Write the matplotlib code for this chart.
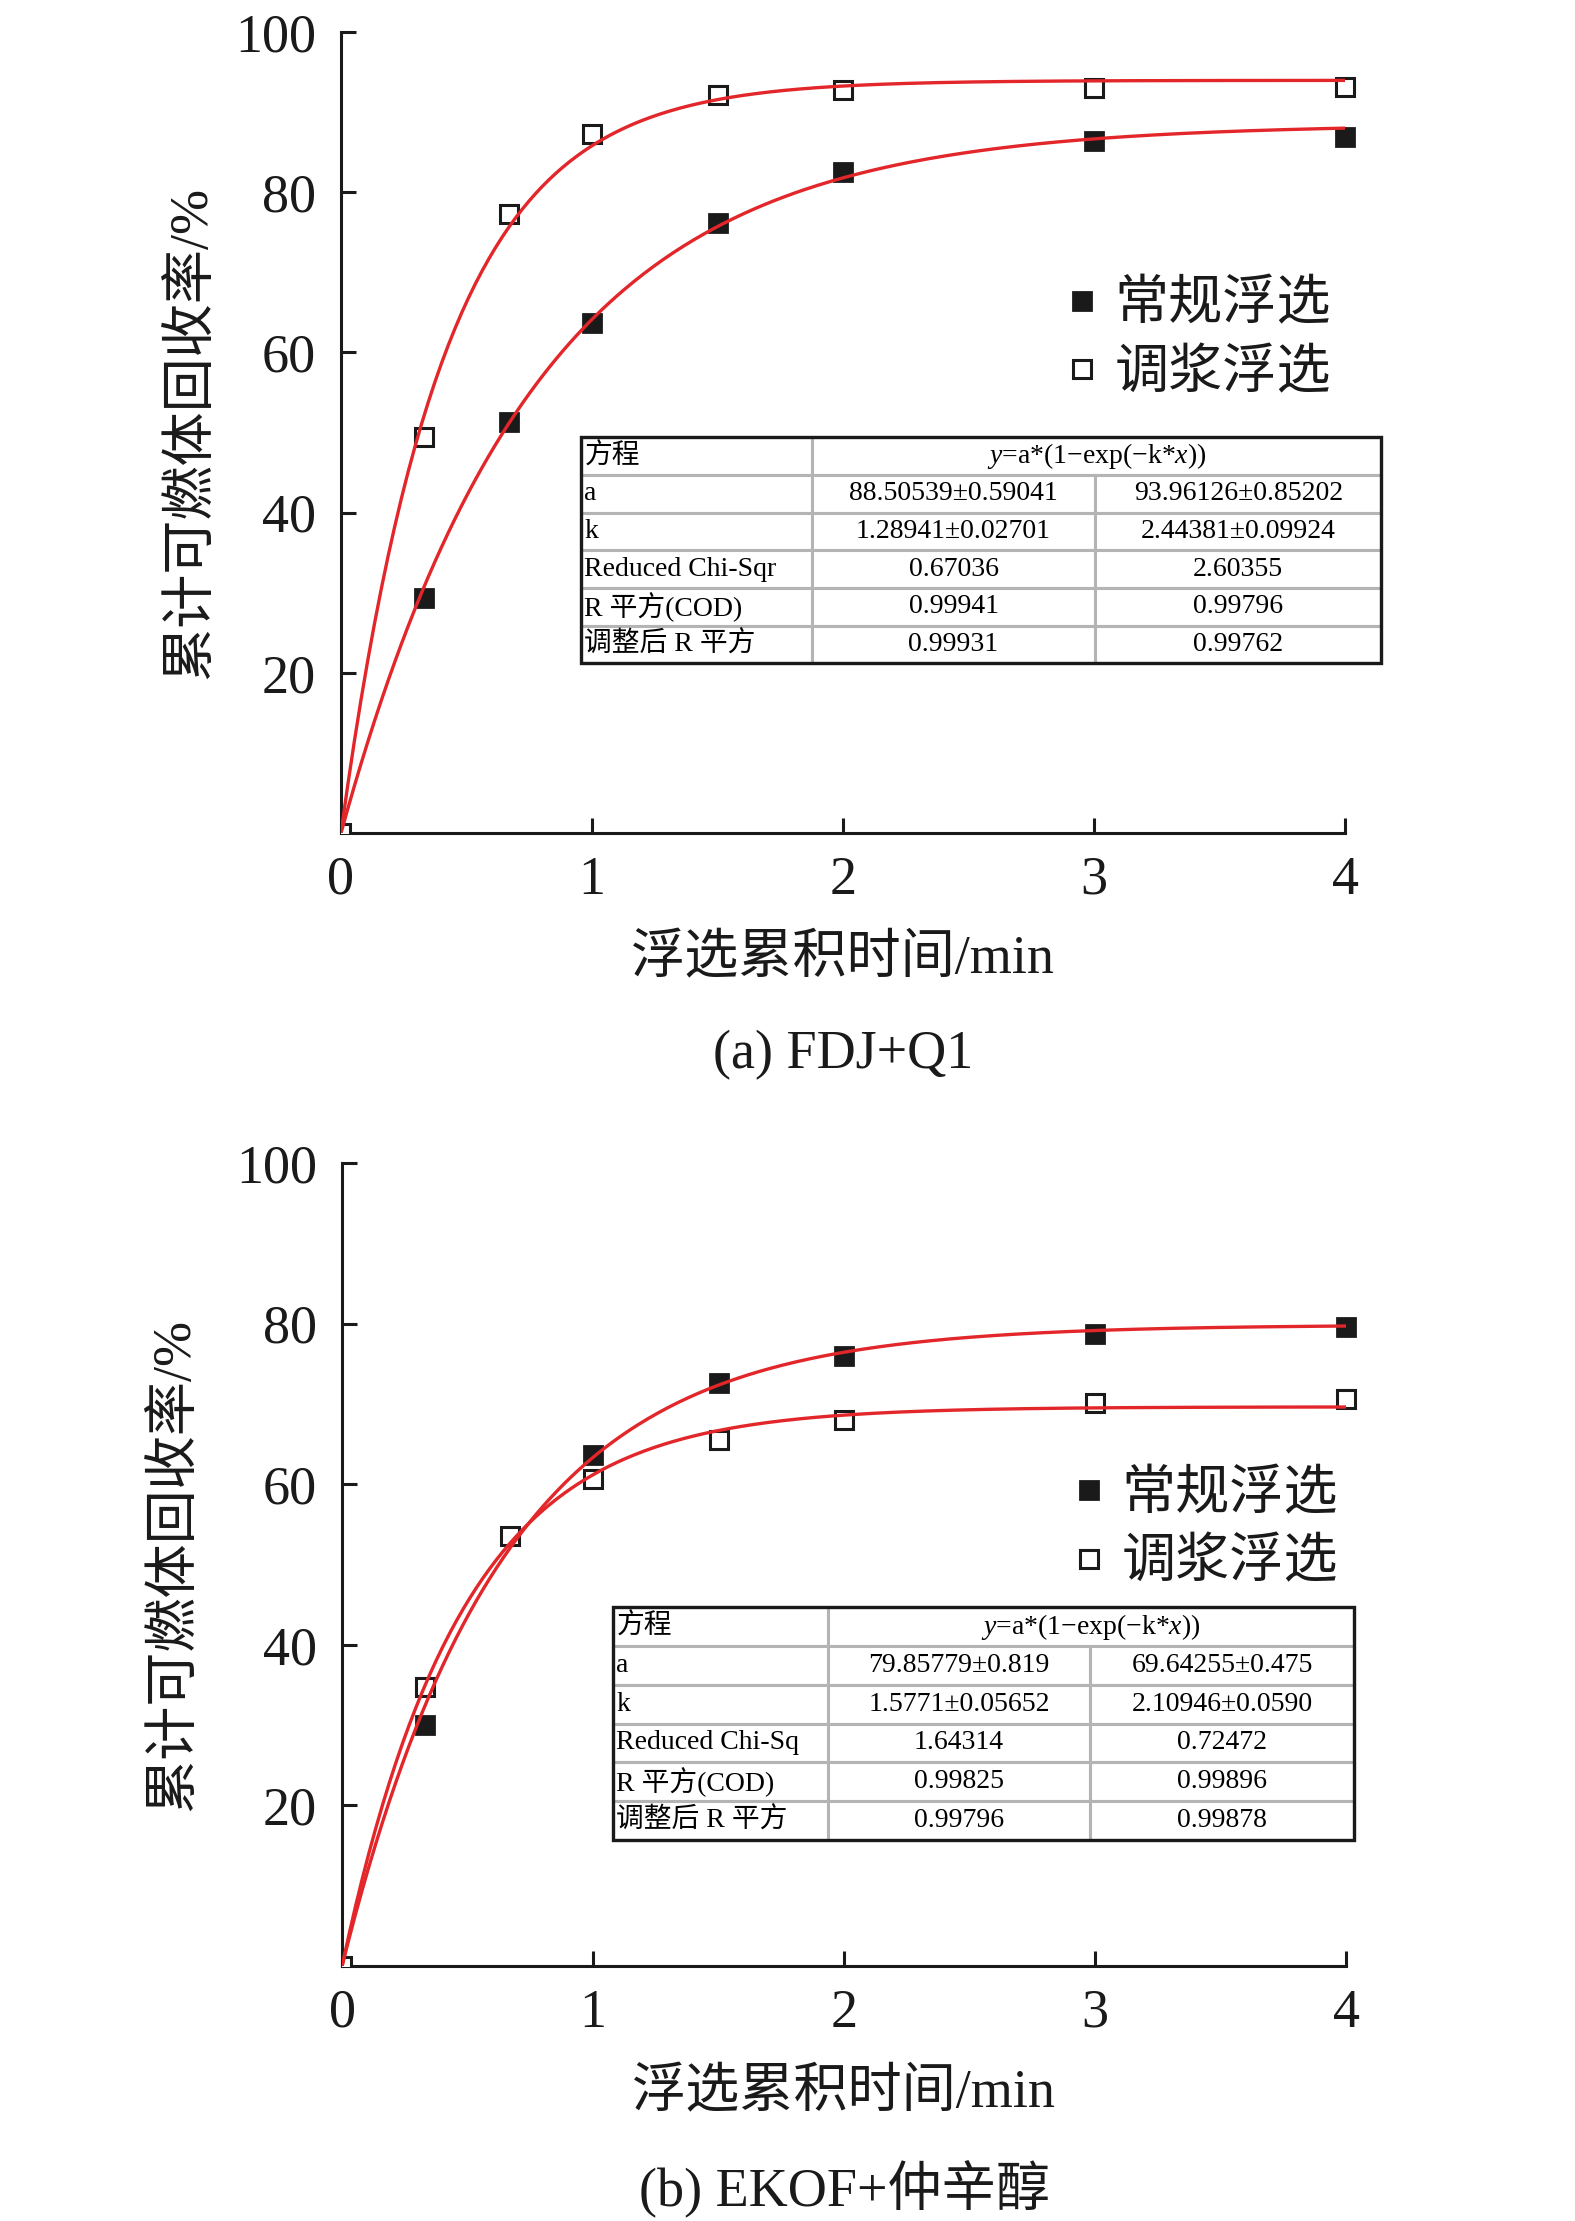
import numpy as np
import matplotlib
matplotlib.use("Agg")
import matplotlib.pyplot as plt
from matplotlib.patches import Rectangle

plt.rcParams['font.family'] = ['Liberation Serif', 'Noto Sans CJK SC']
plt.rcParams['mathtext.fontset'] = 'custom'
plt.rcParams['mathtext.rm'] = 'Liberation Serif'
plt.rcParams['mathtext.it'] = 'Liberation Serif:italic'
plt.rcParams['axes.unicode_minus'] = False

# ---- data ----
time_min = [0, 0.33, 0.67, 1, 1.5, 2, 3, 4]

# (a) FDJ+Q1
a_normal = [0, 29.3, 51.3, 63.7, 76.2, 82.5, 86.4, 86.9]
a_pulp = [0, 49.5, 77.3, 87.3, 92.1, 92.7, 93.0, 93.1]
a_fit_a = [88.50539, 93.96126]
a_fit_k = [1.28941, 2.44381]
a_table = [
    ["a", "88.50539±0.59041", "93.96126±0.85202"],
    ["k", "1.28941±0.02701", "2.44381±0.09924"],
    ["Reduced Chi-Sqr", "0.67036", "2.60355"],
    ["R 平方(COD)", "0.99941", "0.99796"],
    ["调整后 R 平方", "0.99931", "0.99762"],
]

# (b) EKOF+仲辛醇
b_normal = [0, 30.0, 53.5, 63.7, 72.6, 76.0, 78.7, 79.6]
b_pulp = [0, 34.8, 53.5, 60.7, 65.5, 68.0, 70.1, 70.6]
b_fit_a = [79.85779, 69.64255]
b_fit_k = [1.5771, 2.10946]
b_table = [
    ["a", "79.85779±0.819", "69.64255±0.475"],
    ["k", "1.5771±0.05652", "2.10946±0.0590"],
    ["Reduced Chi-Sq", "1.64314", "0.72472"],
    ["R 平方(COD)", "0.99825", "0.99896"],
    ["调整后 R 平方", "0.99796", "0.99878"],
]

labels = ["常规浮选", "调浆浮选"]
formula = r"$y$=a*(1−exp(−k*$x$))"
red = '#e2262a'


def draw_table(ax, rows, x0, y0, x1, y1, cols):
    w = x1 - x0
    h = y1 - y0
    rh = h / 6
    grey = '#b4b4b4'
    head = ax.table(cellText=[["方程", formula]],
                    colWidths=[cols[0], cols[1] + cols[2]],
                    cellLoc='center', bbox=[x0, y1 - rh, w, rh])
    body = ax.table(cellText=rows, colWidths=cols,
                    cellLoc='center', bbox=[x0, y0, w, h - rh])
    for t in (head, body):
        t.auto_set_font_size(False)
        t.set_fontsize(20)
        for (r, c), cell in t.get_celld().items():
            cell.set_edgecolor(grey)
            cell.set_linewidth(2.2)
            if c == 0:
                cell._loc = 'left'
                cell.PAD = 0.015
                cell.get_text().set_ha('left')
    ax.add_patch(Rectangle((x0, y0), w, h, transform=ax.transAxes,
                           fill=False, edgecolor='#1a1a1a', lw=2.4,
                           clip_on=False, zorder=5))


def panel(ax, normal, pulp, fa, fk, rows, tbl_box, cols, leg_pos,
          ylab_x, caption):
    xs = np.linspace(0, 4, 300)
    for a, k in zip(fa, fk):
        ax.plot(xs, a * (1 - np.exp(-k * xs)), color=red, lw=2.4, zorder=4)

    ax.plot(time_min[1:], normal[1:], 's', color='#1a1a1a', ms=13,
            mec='#1a1a1a', mew=2, clip_on=False, zorder=3, label=labels[0])
    ax.plot(time_min[1:], pulp[1:], 's', mfc='white', mec='#1a1a1a', ms=13,
            mew=2.2, clip_on=False, zorder=3, label=labels[1])
    ax.plot(time_min[:1], normal[:1], 's', color='#1a1a1a', ms=13, zorder=3)
    ax.plot(time_min[:1], pulp[:1], 's', mfc='white', mec='#1a1a1a', ms=13,
            mew=2.2, zorder=3)

    ax.set_xlim(0, 4)
    ax.set_ylim(0, 100)
    ax.set_xticks([0, 1, 2, 3, 4])
    ax.set_yticks([20, 40, 60, 80, 100])
    for s in ['top', 'right']:
        ax.spines[s].set_visible(False)
    for s in ['left', 'bottom']:
        ax.spines[s].set_linewidth(2.2)
        ax.spines[s].set_color('#1a1a1a')
    ax.tick_params(direction='in', length=11, width=2.2, colors='#1a1a1a',
                   labelsize=39)
    ax.tick_params(axis='x', pad=16)
    ax.tick_params(axis='y', pad=18)

    ax.set_ylabel("累计可燃体回收率/%", fontsize=39, color='#1a1a1a')
    ax.yaxis.set_label_coords(ylab_x, 0.5)
    ax.yaxis.label.set_va('center')
    ax.set_xlabel("浮选累积时间/min", fontsize=39, color='#1a1a1a')
    ax.xaxis.set_label_coords(0.5, -0.159)
    ax.xaxis.label.set_va('center')
    ax.text(0.5, -0.277, caption, transform=ax.transAxes, ha='center',
            va='center', fontsize=39, color='#1a1a1a')

    ax.legend(loc='center left', bbox_to_anchor=leg_pos, frameon=False,
              fontsize=39, handlelength=0.6, handletextpad=0.3,
              labelspacing=0.33, borderpad=0, borderaxespad=0,
              markerscale=1.0, labelcolor='#1a1a1a')

    draw_table(ax, rows, *tbl_box, cols)


fig = plt.figure(figsize=(15.75, 22.21), dpi=100)
ax_a = fig.add_axes([0.2165, 0.6249, 0.6375, 0.3607])
ax_b = fig.add_axes([0.2172, 0.1148, 0.6375, 0.3615])

panel(ax_a, a_normal, a_pulp, a_fit_a, a_fit_k, a_table,
      (0.239, 0.212, 1.036, 0.494), [0.230, 0.283, 0.285],
      (0.722, 0.615), -0.1484, "(a) FDJ+Q1")
panel(ax_b, b_normal, b_pulp, b_fit_a, b_fit_k, b_table,
      (0.270, 0.157, 1.008, 0.447), [0.214, 0.261, 0.263],
      (0.728, 0.543), -0.166, "(b) EKOF+仲辛醇")

fig.savefig("out.png", dpi=100, facecolor='white')
